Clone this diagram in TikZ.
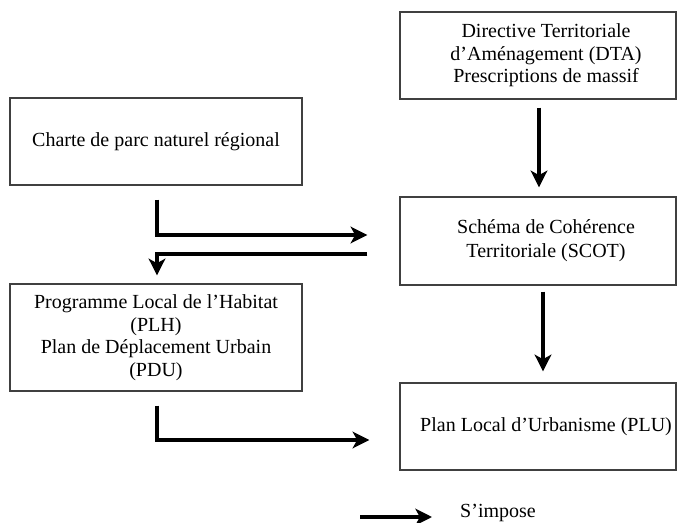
\documentclass[tikz,border=0pt]{standalone}
\usepackage{fontspec}
\setmainfont{Liberation Serif}
\usetikzlibrary{arrows.meta}
\newcommand{\rin}{\hspace*{10.6pt}}

\begin{document}
\begin{tikzpicture}[x=0.66pt,y=-0.66pt,
   box/.style={draw=black!75,line width=0.9pt,align=center,inner sep=0pt,
     font=\fontsize{13.2pt}{14.9pt}\selectfont,
     minimum width=182.2pt,minimum height=57.4pt},
   wbox/.style={box,minimum width=192.7pt},
   imp/.style={line width=2.1pt,-{Stealth[length=11pt,width=11pt,inset=3pt]}}]
   \useasboundingbox (0,0) rectangle (678,523);

   \node[box] (dta) at (538,55.5) {\rin Directive Territoriale\\\rin d’Aménagement (DTA)\\\rin Prescriptions de massif};
   \node[wbox] (charte) at (156,141.5) {Charte de parc naturel régional};
   \node[box,minimum height=58.1pt] (scot) at (538,241) {\rin Schéma de Cohérence\\[1pt]\rin Territoriale (SCOT)};
   \node[wbox,minimum height=70.6pt] (plh) at (156,337.5)
     {Programme Local de l’Habitat\\(PLH)\\Plan de Déplacement Urbain\\(PDU)};
   \node[box] (plu) at (538,426.5) {\rin Plan Local d’Urbanisme (PLU)};

   % imposes
   \draw[imp] ([shift={(1,8)}]dta.south) -- ([shift={(1,-9)}]scot.north);
   \draw[imp] ([shift={(5,6)}]scot.south) -- ([shift={(5,-11)}]plu.north);
   \draw[imp] ([shift={(1,14)}]charte.south) |- ([shift={(-32,-6)}]scot.west);
   \draw[imp] ([shift={(-32,13)}]scot.west) -| ([shift={(1,-8)}]plh.north);
   \draw[imp] ([shift={(1,14)}]plh.south) |- ([shift={(-30,13.5)}]plu.west);

   % legend
   \coordinate (legA) at (360,517);
   \coordinate (legB) at (432,517);
   \draw[imp] (legA) -- (legB);
   \node[font=\fontsize{13.2pt}{14.9pt}\selectfont] (legtxt) at (498,513) {S’impose};
\end{tikzpicture}
\end{document}
